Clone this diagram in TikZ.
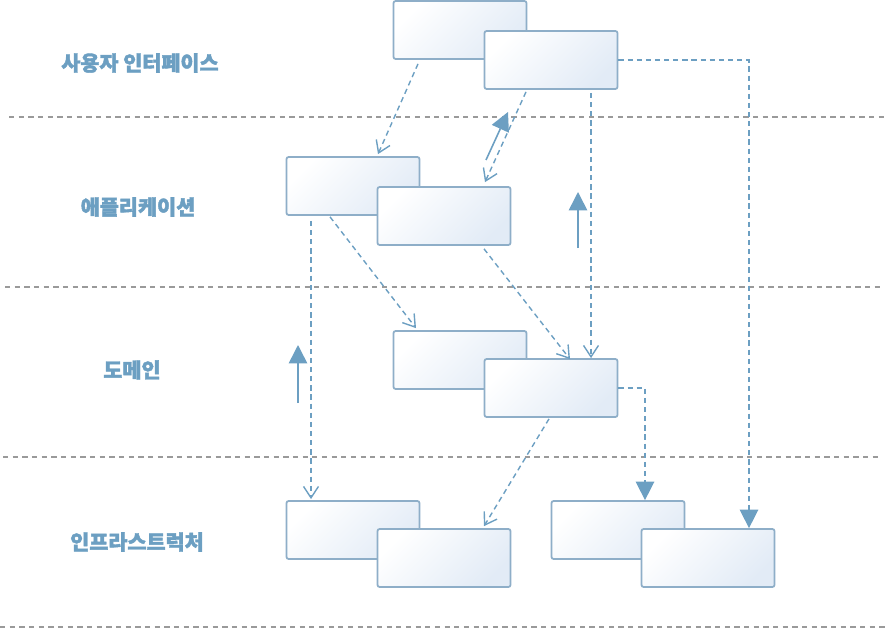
\documentclass[tikz,border=0pt]{standalone}
\usepackage{fontspec}
\newfontfamily\krfont{Noto Sans CJK KR}[BoldFeatures={FakeBold=2}]
\usepackage{tikz}
\usetikzlibrary{arrows.meta,calc,positioning}

\definecolor{LayerGray}{HTML}{9A9A9A}
\definecolor{DepBlue}{HTML}{6C9FC2}
\definecolor{BoxLine}{HTML}{8EAEC8}
\definecolor{BoxShade}{HTML}{E2EBF6}

\begin{document}
\begin{tikzpicture}[x=0.02cm, y=-0.02cm]
			\tikzstyle{Layer}	= [LayerGray, line width=1pt, dash pattern=on 3pt off 2.5pt]
			\tikzstyle{Title}	= [DepBlue, font=\krfont\bfseries\fontsize{11.8pt}{14pt}\selectfont]
			\tikzstyle{Module}	= [draw=BoxLine, line width=1pt, rounded corners=1.2pt, minimum width=2.66cm, minimum height=1.16cm, inner sep=0pt, top color=white, bottom color=BoxShade, shading angle=45]
			\tikzstyle{Dep}		= [DepBlue, line width=0.8pt, dash pattern=on 3pt off 2.2pt, -{Straight Barb[length=6.5pt,width=8.5pt]}]
			\tikzstyle{Impl}	= [DepBlue, line width=0.8pt, dash pattern=on 3pt off 2.2pt, -{Triangle[length=10.5pt,width=10.5pt]}]
			\tikzstyle{Call}	= [DepBlue, line width=0.9pt, -{Triangle[length=10.5pt,width=10.5pt]}]

			\useasboundingbox (0, 0) rectangle (888, 628);

			\draw [Layer] (9, 117) -- (885, 117);
			\draw [Layer] (5, 287) -- (882, 287);
			\draw [Layer] (3, 457) -- (880, 457);
			\draw [Layer] (0, 627) -- (888, 627);

			\node (ui) at (140, 63) [Title] {사용자 인터페이스};
			\node (app) at (138, 207) [Title] {애플리케이션};
			\node (dom) at (132, 370) [Title] {도메인};
			\node (infra) at (137, 542) [Title] {인프라스트럭처};

			\node (ui1) at (460, 30) [Module] {};
			\node (ui2) at (551, 60) [Module] {};
			\node (app1) at (353, 186) [Module] {};
			\node (app2) at (444, 216) [Module] {};
			\node (dom1) at (460, 360) [Module] {};
			\node (dom2) at (551, 388) [Module] {};
			\node (inf1) at (353, 530) [Module] {};
			\node (inf2) at (444, 558) [Module] {};
			\node (inf3) at (618, 530) [Module] {};
			\node (inf4) at (708, 558) [Module] {};

			\coordinate (c1a) at (486, 160);
			\coordinate (c1b) at (508, 112);
			\coordinate (c2a) at (578, 248);
			\coordinate (c2b) at (578, 192);
			\coordinate (c3a) at (298, 403);
			\coordinate (c3b) at (298, 345);

			\draw [Dep] ($(ui1.south)+(-42,4)$) to ($(app1.north)+(25,-2)$);
			\draw [Dep] ($(ui2.south)+(-25,2)$) to ($(app2.north)+(41,-4)$);
			\draw [Dep] ($(ui2.south)+(40,3)$) to ($(dom2.north)+(40,0)$);
			\draw [Impl] (ui2.east) -| ($(inf4.north)+(41,0)$);
			\draw [Dep] ($(app1.south)+(-42,5)$) to ($(inf1.north)+(-42,-1)$);
			\draw [Dep] ($(app1.south)+(-23,1)$) to ($(dom1.north)+(-44,-2)$);
			\draw [Dep] ($(app2.south)+(40,3)$) to ($(dom2.north)+(19,1)$);
			\draw [Impl] (dom2.east) -| ($(inf3.north)+(27,0)$);
			\draw [Dep] ($(dom2.south)+(-2,1)$) to ($(inf2.north)+(40,-2)$);

			\draw [Call] (c1a) to (c1b);
			\draw [Call] (c2a) to (c2b);
			\draw [Call] (c3a) to (c3b);
		\end{tikzpicture}
\end{document}
